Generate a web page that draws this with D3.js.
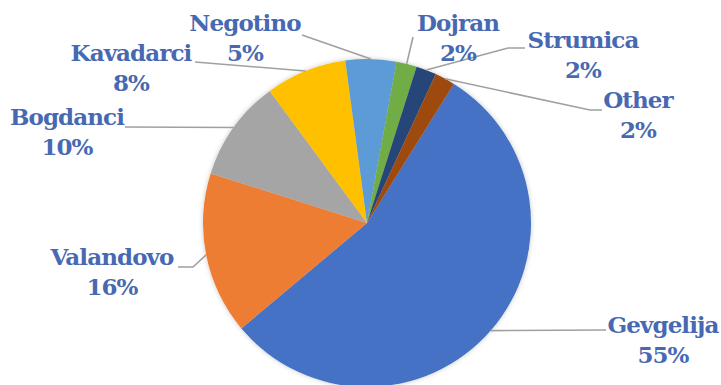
<!DOCTYPE html>
<html>
<head>
<meta charset="utf-8">
<script src="https://cdn.jsdelivr.net/npm/d3@7"></script>
<style>
  html, body { margin: 0; padding: 0; background: #ffffff; }
  svg { display: block; }
  .lbl text { font-family: "DejaVu Serif", serif; font-weight: bold; font-size: 23px; letter-spacing: -0.9px; }
</style>
</head>
<body>
<svg id="chart" width="721" height="385"></svg>
<script>
// Share of production by municipality (percent)
const categories = ["Gevgelija", "Valandovo", "Bogdanci", "Kavadarci", "Negotino", "Dojran", "Strumica", "Other"];
const shares = [55, 16, 10, 8, 5, 2, 2, 2];
const labelTexts = ["55%", "16%", "10%", "8%", "5%", "2%", "2%", "2%"];
const sliceColors = ["#4472C4", "#ED7D31", "#A5A5A5", "#FFC000", "#5B9BD5", "#70AD47", "#264478", "#9E480E"];

// Label placement: text centre, first baseline, and leader-line anchor (+ optional elbow)
const labelLayout = {
  Gevgelija: { x: 663, y: 333, lead: [[606, 330]] },
  Valandovo: { x: 112, y: 265, lead: [[178, 267], [193, 267]] },
  Bogdanci:  { x: 67,  y: 125, lead: [[125, 127]] },
  Kavadarci: { x: 131, y: 61,  lead: [[195, 62]] },
  Negotino:  { x: 245, y: 31,  lead: [[302, 35]] },
  Dojran:    { x: 458, y: 31,  lead: [[413, 37]] },
  Strumica:  { x: 583, y: 48,  lead: [[525, 48], [508, 48]] },
  Other:     { x: 638, y: 108, lead: [[602, 110], [590, 110]] }
};

const cx = 367, cy = 223, R = 164;
const startDeg = 32;
const lineGap = 30;
const textColor = "#4669B2";

const svg = d3.select("#chart");

const defs = svg.append("defs");
const f = defs.append("filter").attr("id", "soft").attr("x", "-10%").attr("y", "-10%").attr("width", "120%").attr("height", "120%");
f.append("feGaussianBlur").attr("in", "SourceAlpha").attr("stdDeviation", 2.5).attr("result", "b");
f.append("feFlood").attr("flood-color", "#000").attr("flood-opacity", 0.22);
f.append("feComposite").attr("in2", "b").attr("operator", "in").attr("result", "s");
const m = f.append("feMerge");
m.append("feMergeNode").attr("in", "s");
m.append("feMergeNode").attr("in", "SourceGraphic");

const data = categories.map((c, i) => ({ name: c, value: shares[i], label: labelTexts[i], color: sliceColors[i] }));

const start = startDeg * Math.PI / 180;
const pie = d3.pie().sort(null).value(d => d.value).startAngle(start).endAngle(start + 2 * Math.PI);
const arcs = pie(data);

const arc = d3.arc().innerRadius(0).outerRadius(R);
const rim = d3.arc().innerRadius(R).outerRadius(R);

const g = svg.append("g").attr("transform", `translate(${cx},${cy})`);

// leader lines
const lineGen = d3.line();
svg.append("g").selectAll("path")
  .data(arcs)
  .join("path")
  .attr("d", d => {
    const L = labelLayout[d.data.name];
    const p = rim.centroid(d);
    return lineGen(L.lead.concat([[p[0] + cx, p[1] + cy]]));
  })
  .attr("fill", "none")
  .attr("stroke", "#A0A0A0")
  .attr("stroke-width", 1.6);

// slices
g.append("g").attr("filter", "url(#soft)")
  .selectAll("path")
  .data(arcs)
  .join("path")
  .attr("d", arc)
  .attr("fill", d => d.data.color);

// labels
const lbl = svg.append("g").attr("class", "lbl")
  .attr("fill", textColor)
  .attr("text-anchor", "middle");

arcs.forEach(d => {
  const L = labelLayout[d.data.name];
  const t = lbl.append("text").attr("x", L.x).attr("y", L.y);
  t.append("tspan").attr("x", L.x).text(d.data.name);
  t.append("tspan").attr("x", L.x).attr("dy", lineGap).text(d.data.label);
});
</script>
</body>
</html>
